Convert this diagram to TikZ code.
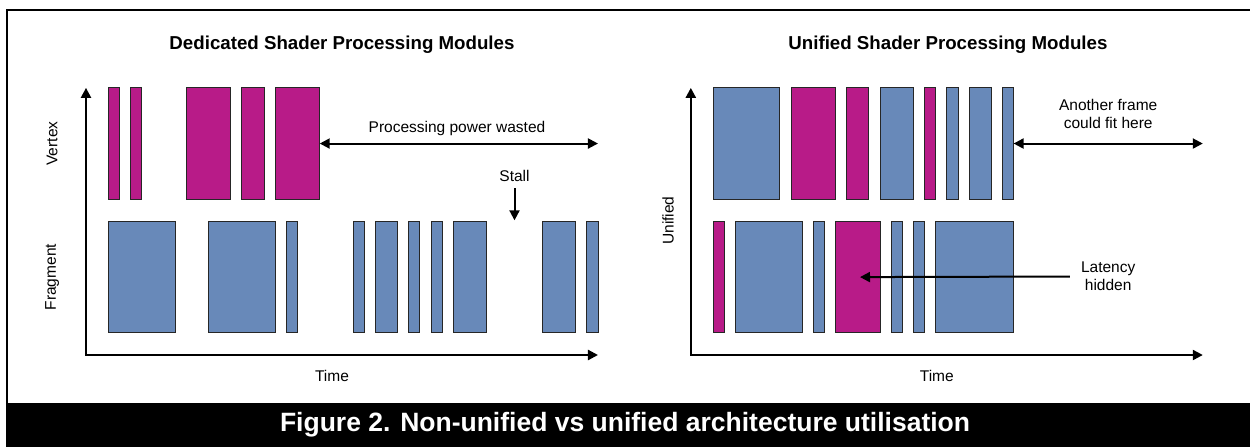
\documentclass[tikz,border=0pt]{standalone}
\usepackage{fontspec}
\setmainfont{Liberation Sans}
\usetikzlibrary{arrows.meta,positioning}
\definecolor{vertcol}{RGB}{184,27,136}
\definecolor{fragcol}{RGB}{104,137,185}
\tikzset{
  vbox/.style={draw=black!85,line width=0.9pt,fill=vertcol},
  fbox/.style={draw=black!85,line width=0.9pt,fill=fragcol},
  axes/.style={line width=2.2pt,line join=miter,{Triangle[length=10pt,width=10pt]}-{Triangle[length=10pt,width=10pt]}},
  twoway/.style={line width=2pt,{Triangle[length=10pt,width=10pt]}-{Triangle[length=10pt,width=10pt]}},
  oneway/.style={line width=2pt,-{Triangle[length=10pt,width=10pt]}},
  lbl/.style={font=\fontsize{15.5}{18.3}\selectfont,align=center,inner sep=0pt},
  ttl/.style={font=\fontsize{18.7}{22}\selectfont\bfseries,inner sep=0pt}
}
\begin{document}
\begin{tikzpicture}[x=11.13pt,y=11.13pt]
\useasboundingbox (-7.727,-8.266) rectangle (104.58,31.896);
\fill[black] (-7.19,-8.266) rectangle (104.58,-4.31);
\draw[line width=2.2pt] (-7.12,-4.31) -- (-7.12,31.0) -- (104.58,31.0);
\node[text=white,font=\fontsize{26.5}{30}\selectfont\bfseries,inner sep=0pt] (caption) at (48.43,-6.25) {Figure 2. Non-unified vs unified architecture utilisation};

\coordinate (o1) at (0,0);
\coordinate (ytop1) at (0,24);
\coordinate (xend1) at (46,0);
\draw[axes] (ytop1) -- (o1) -- (xend1);
\node[ttl,anchor=base] (title1) at (23,27.47) {Dedicated Shader Processing Modules};
\node[lbl,rotate=90] (vertex) at (-3.05,19) {Vertex};
\node[lbl,rotate=90] (fragment) at (-3.05,7) {Fragment};
\node[lbl,anchor=base] (time1) at (22.1,-2.4) {Time};

\draw[vbox] (2,14) rectangle (3,24);
\draw[vbox] (4,14) rectangle (5,24);
\draw[vbox] (9,14) rectangle (13,24);
\draw[vbox] (14,14) rectangle (16,24);
\draw[vbox] (17,14) rectangle (21,24);

\draw[fbox] (2,2) rectangle (8,12);
\draw[fbox] (11,2) rectangle (17,12);
\draw[fbox] (18,2) rectangle (19,12);
\draw[fbox] (24,2) rectangle (25,12);
\draw[fbox] (26,2) rectangle (28,12);
\draw[fbox] (29,2) rectangle (30,12);
\draw[fbox] (31,2) rectangle (32,12);
\draw[fbox] (33,2) rectangle (36,12);
\draw[fbox] (41,2) rectangle (44,12);
\draw[fbox] (45,2) rectangle (46,12);

\coordinate (vend) at (21,19);
\coordinate (wend) at (46,19);
\draw[twoway] (vend) -- (wend);
\node[lbl,anchor=base] (wasted) at (33.33,20) {Processing power wasted};
\coordinate (stallpt) at (38.5,12.1);
\node[lbl,anchor=base] (stall) at (38.5,15.57) {Stall};
\draw[oneway] ([yshift=-6pt]stall.south) -- (stallpt);

\begin{scope}[shift={(54.34,0)}]
\coordinate (o2) at (0,0);
\coordinate (ytop2) at (0,24);
\coordinate (xend2) at (46,0);
\draw[axes] (ytop2) -- (o2) -- (xend2);
\node[ttl,anchor=base] (title2) at (23.1,27.47) {Unified Shader Processing Modules};
\node[lbl,rotate=90] (unified) at (-2.05,12.07) {Unified};
\node[lbl,anchor=base] (time2) at (22.1,-2.4) {Time};

\draw[fbox] (2,14) rectangle (8,24);
\draw[vbox] (9,14) rectangle (13,24);
\draw[vbox] (14,14) rectangle (16,24);
\draw[fbox] (17,14) rectangle (20,24);
\draw[vbox] (21,14) rectangle (22,24);
\draw[fbox] (23,14) rectangle (24,24);
\draw[fbox] (25,14) rectangle (27,24);
\draw[fbox] (28,14) rectangle (29,24);

\draw[vbox] (2,2) rectangle (3,12);
\draw[fbox] (4,2) rectangle (10,12);
\draw[fbox] (11,2) rectangle (12,12);
\draw[vbox] (13,2) rectangle (17,12);
\draw[fbox] (18,2) rectangle (19,12);
\draw[fbox] (20,2) rectangle (21,12);
\draw[fbox] (22,2) rectangle (29,12);

\coordinate (uend) at (29,19);
\coordinate (fend) at (46,19);
\draw[twoway] (uend) -- (fend);
\node[lbl] (another) at (37.5,21.65) {Another frame\\could fit here};
\coordinate (hidpt) at (15.2,7);
\node[lbl] (latency) at (37.5,7.05) {Latency\\hidden};
\draw[oneway] ([xshift=-11pt]latency.west) -- (hidpt);
\end{scope}
\end{tikzpicture}
\end{document}
